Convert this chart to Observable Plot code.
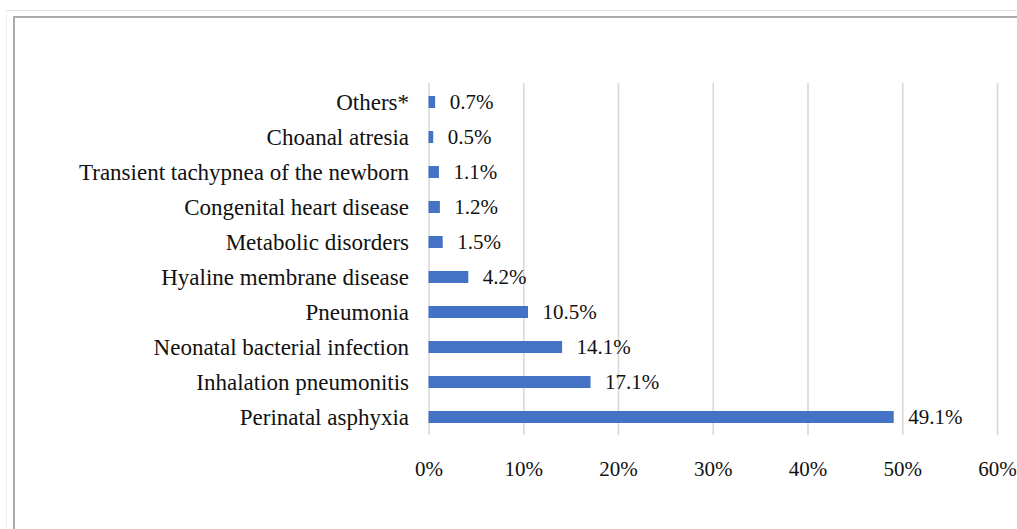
<!DOCTYPE html>
<html>
<head>
<meta charset="utf-8">
<script src="https://cdn.jsdelivr.net/npm/d3@7"></script>
<script src="https://cdn.jsdelivr.net/npm/@observablehq/plot@0.6"></script>
<style>
  html, body { margin: 0; padding: 0; background: #fff; width: 1017px; height: 529px; overflow: hidden; }
  #outer { position: absolute; left: 6px; top: 10px; width: 1011px; height: 519px;
           border-top: 1px solid #e2e2e2; border-left: 1px solid #f0f0f0; box-sizing: border-box; }
  #inner { position: absolute; left: 13px; top: 16px; width: 1004px; height: 513px;
           border-top: 2px solid #ababab; border-left: 2px solid #ababab; box-sizing: border-box; }
  #chart { position: absolute; left: 0; top: 0; }
</style>
</head>
<body>
<div id="outer"></div>
<div id="inner"></div>
<div id="chart"></div>
<script>
const categories = [
  "Others*",
  "Choanal atresia",
  "Transient tachypnea of the newborn",
  "Congenital heart disease",
  "Metabolic disorders",
  "Hyaline membrane disease",
  "Pneumonia",
  "Neonatal bacterial infection",
  "Inhalation pneumonitis",
  "Perinatal asphyxia"
];
const values = [0.7, 0.5, 1.1, 1.2, 1.5, 4.2, 10.5, 14.1, 17.1, 49.1];
const xTicks = [0, 10, 20, 30, 40, 50, 60];

const data = categories.map((c, i) => ({category: c, value: values[i]}));

const font = "'Liberation Serif', 'Times New Roman', serif";

const chart = Plot.plot({
  width: 1017,
  height: 529,
  marginLeft: 428.5,
  marginRight: 20,
  marginTop: 83,
  marginBottom: 94,
  style: {fontFamily: font, fontSize: "21px", color: "#111", background: "transparent"},
  x: {domain: [0, 60], ticks: xTicks, tickFormat: d => d + "%", label: null, tickSize: 0, tickPadding: 27},
  y: {domain: categories, label: null, tickSize: 0, tickPadding: 20, paddingInner: 0.66, paddingOuter: 0.33},
  marks: [
    Plot.gridX(xTicks, {stroke: "#d9d9d9", strokeOpacity: 1, strokeWidth: 1.6}),
    Plot.barX(data, {x: "value", y: "category", fill: "#4472C4"}),
    Plot.text(data, {x: "value", y: "category", text: d => d.value.toFixed(1) + "%", textAnchor: "start", dx: 14, fill: "#111", fontSize: 21, fontFamily: font}),
    Plot.axisX({ticks: xTicks, tickFormat: d => d + "%", tickSize: 0, tickPadding: 26, label: null, fontSize: 21, fontFamily: font}),
    Plot.axisY({tickSize: 0, tickPadding: 20, label: null, fontSize: 23, fontFamily: font})
  ]
});
document.getElementById("chart").appendChild(chart);
</script>
</body>
</html>
